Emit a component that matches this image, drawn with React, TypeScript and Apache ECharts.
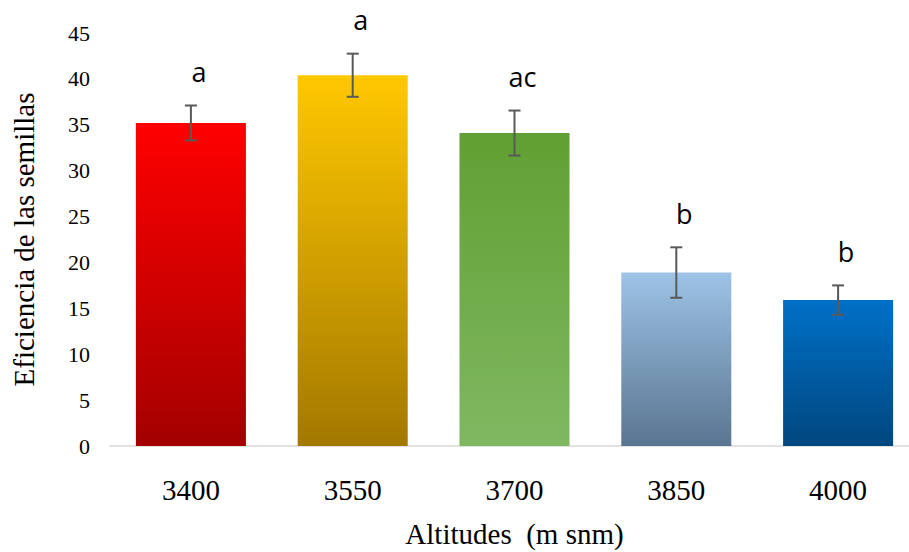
import React, { useEffect, useRef } from "react";
import * as echarts from "echarts";

const categories = ["3400", "3550", "3700", "3850", "4000"];
const values = [35.2, 40.4, 34.1, 18.9, 15.9];
const errors = [1.9, 2.35, 2.45, 2.75, 1.6];
const letters = ["a", "a", "ac", "b", "b"];
const topColors = ["#FF0000", "#FFC800", "#60A032", "#9DC3E6", "#0070C8"];
const bottomColors = ["#A30000", "#A37800", "#80B862", "#5A7590", "#00477F"];

export default function App() {
  const ref = useRef<HTMLDivElement>(null);
  useEffect(() => {
    if (!ref.current) return;
    const chart = echarts.init(ref.current, null, { renderer: "svg" });
    const serif = "'Liberation Serif', 'Times New Roman', serif";
    chart.setOption({
      animation: false,
      backgroundColor: "#ffffff",
      grid: {
        left: 110,
        top: 33,
        width: 809,
        height: 413,
        containLabel: false,
        outerBoundsMode: "none",
      },
      xAxis: {
        type: "category",
        data: categories,
        axisLine: { lineStyle: { color: "#d9d9d9", width: 1.5 } },
        axisTick: { show: false },
        axisLabel: { fontFamily: serif, fontSize: 29, color: "#000", margin: 29 },
        name: "Altitudes  (m snm)",
        nameLocation: "middle",
        nameGap: 73,
        nameTextStyle: { fontFamily: serif, fontSize: 29, color: "#000" },
      },
      yAxis: {
        type: "value",
        min: 0,
        max: 45,
        interval: 5,
        splitLine: { show: false },
        axisLine: { show: false },
        axisTick: { show: false },
        axisLabel: { fontFamily: serif, fontSize: 22, color: "#000", margin: 20 },
        name: "Eficiencia de las semillas",
        nameLocation: "middle",
        nameGap: 72,
        nameTextStyle: { fontFamily: serif, fontSize: 29, color: "#000" },
      },
      series: [
        {
          type: "bar",
          barCategoryGap: "32%",
          data: values.map((v, i) => ({
            value: v,
            itemStyle: {
              color: new echarts.graphic.LinearGradient(0, 0, 0, 1, [
                { offset: 0, color: topColors[i] },
                { offset: 1, color: bottomColors[i] },
              ]),
            },
          })),
        },
        {
          type: "custom",
          clip: false,
          z: 10,
          data: values.map((v, i) => [i, v - errors[i], v + errors[i]]),
          renderItem: (params: any, api: any) => {
            const idx = params.dataIndex;
            const lo = api.coord([api.value(0), api.value(1)]);
            const hi = api.coord([api.value(0), api.value(2)]);
            const x = lo[0];
            const cap = 6;
            const style = { stroke: "#595959", lineWidth: 2 };
            return {
              type: "group",
              children: [
                { type: "line", shape: { x1: x, y1: lo[1], x2: x, y2: hi[1] }, style },
                { type: "line", shape: { x1: x - cap, y1: lo[1], x2: x + cap, y2: lo[1] }, style },
                { type: "line", shape: { x1: x - cap, y1: hi[1], x2: x + cap, y2: hi[1] }, style },
                {
                  type: "text",
                  x: x + 8,
                  y: hi[1] - 34,
                  style: {
                    text: letters[idx],
                    fontFamily: "'Open Sans', 'Noto Sans', sans-serif",
                    fontSize: 27,
                    fill: "#000",
                    align: "center",
                    verticalAlign: "middle",
                  },
                },
              ],
            };
          },
        },
      ],
    });
    return () => chart.dispose();
  }, []);
  return (
    <div
      ref={ref}
      style={{ position: "absolute", left: 0, top: 0, width: 909, height: 552, overflow: "hidden" }}
    />
  );
}
